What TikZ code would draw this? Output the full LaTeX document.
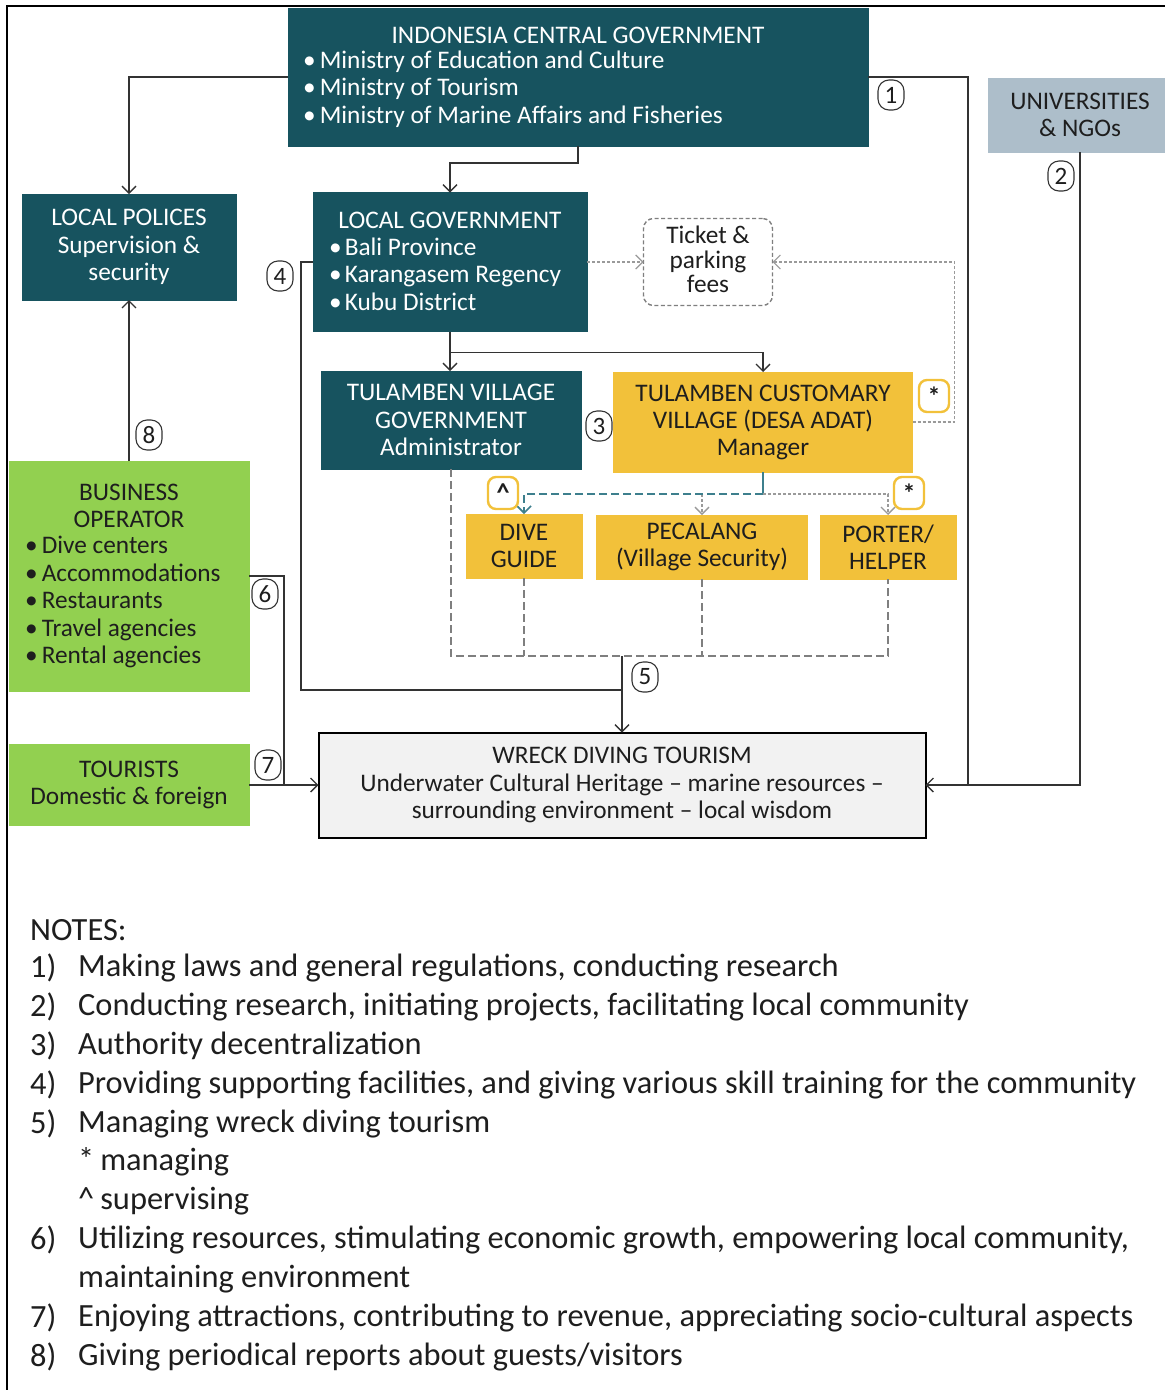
\documentclass[tikz,border=0pt]{standalone}
\usepackage{fontspec}
\setmainfont{Carlito}
\usetikzlibrary{arrows.meta}
\definecolor{tealc}{HTML}{17535F}
\definecolor{yelc}{HTML}{F2C13A}
\definecolor{grnc}{HTML}{92D050}
\definecolor{univc}{HTML}{ADBECA}
\definecolor{wreckc}{HTML}{F2F2F2}
\definecolor{txtc}{HTML}{1E1E1E}
\definecolor{linec}{HTML}{333333}
\definecolor{dotc}{HTML}{9A9A9A}
\definecolor{dashc}{HTML}{7F7F7F}
\definecolor{tdashc}{HTML}{3D7F8D}
\begin{document}
\begin{tikzpicture}[x=1pt,y=-1pt,
  base/.style={inner sep=0pt, outer sep=0pt, align=center, font=\fontsize{25.3}{27.5}\selectfont},
  tealbox/.style={base, fill=tealc, draw=tealc, text=white},
  yelbox/.style={base, fill=yelc, draw=yelc, text=txtc},
  grnbox/.style={base, fill=grnc, draw=grnc, text=txtc},
  wtxt/.style={inner sep=0pt, align=left, text=white, font=\fontsize{25.3}{27.5}\selectfont},
  dtxt/.style={inner sep=0pt, align=left, text=txtc, font=\fontsize{25.3}{27.5}\selectfont},
  conn/.style={draw=linec, line width=1.3pt},
  arr/.style={conn, -{Straight Barb[length=7pt,width=14pt]}},
  dotarr/.style={draw=dotc, line width=1.2pt, dash pattern=on 3pt off 2pt, -{Straight Barb[length=7pt,width=14pt]}},
  gdash/.style={draw=dashc, line width=1.6pt, dash pattern=on 8pt off 4pt},
  tdash/.style={draw=tdashc, line width=1.6pt, dash pattern=on 8pt off 4pt, -{Straight Barb[length=7pt,width=14pt]}},
  gdot/.style={draw=dotc, line width=1.3pt, dash pattern=on 3pt off 2pt},
  circ/.style={draw=linec, line width=1.1pt, rounded corners=11pt, minimum width=26pt, minimum height=30pt, inner sep=0pt, font=\fontsize{25}{25}\selectfont, text=txtc},
  starbox/.style={draw=yelc, line width=2.4pt, rounded corners=8pt, minimum width=30pt, minimum height=32pt, fill=white, inner sep=0pt, font=\fontsize{26}{26}\selectfont\bfseries, text=txtc},
  note/.style={anchor=west, inner sep=0pt, font=\fontsize{32.4}{39}\selectfont, text=txtc},
]
\useasboundingbox (0,0) rectangle (1165,1390);
\fill[white] (0,0) rectangle (1165,1390);
% frame
\draw[line width=1.8pt, black] (7,1392) -- (7,6) -- (1167,6);

% boxes
\node[tealbox, minimum width=580, minimum height=138] (cg) at (578,77) {};
\node[wtxt, anchor=center] (cgt) at (578,35) {INDONESIA CENTRAL GOVERNMENT};
\node[wtxt, anchor=west] (cgl) at (303,89) {\textbullet\hspace{4pt}Ministry of Education and Culture\\\textbullet\hspace{4pt}Ministry of Tourism\\\textbullet\hspace{4pt}Ministry of Marine Affairs and Fisheries};

\node[base, fill=univc, draw=univc, text=txtc, minimum width=184, minimum height=74] (univ) at (1080,115) {UNIVERSITIES\\\& NGOs};

\node[tealbox, minimum width=214, minimum height=106] (lp) at (129,247) {LOCAL POLICES\\Supervision \&\\security};

\node[tealbox, minimum width=274, minimum height=139] (lg) at (450,262) {};
\node[wtxt, anchor=center] (lgt) at (450,220) {LOCAL GOVERNMENT};
\node[wtxt, anchor=west] (lgl) at (329,274) {\textbullet\hspace{3pt}Bali Province\\\textbullet\hspace{3pt}Karangasem Regency\\\textbullet\hspace{3pt}Kubu District};

\node[base, draw=dashc, dash pattern=on 4pt off 2.5pt, line width=1.4pt, rounded corners=10pt, minimum width=129, minimum height=87] (tk) at (708,262) {};
\node[base, text=txtc, font=\fontsize{25.3}{24.5}\selectfont] (tkt) at (708,259.5) {Ticket \&\\parking\\fees};

\node[tealbox, minimum width=260, minimum height=98] (vg) at (451,420) {TULAMBEN VILLAGE\\GOVERNMENT\\Administrator};
\node[yelbox, minimum width=299, minimum height=100, font=\fontsize{25.3}{27}\selectfont] (cv) at (763,422) {TULAMBEN CUSTOMARY\\VILLAGE (DESA ADAT)\\Manager};

\node[yelbox, minimum width=116, minimum height=64] (dg) at (524,546) {DIVE\\GUIDE};
\node[yelbox, minimum width=211, minimum height=64] (pc) at (702,547) {PECALANG\\(Village Security)};
\node[yelbox, minimum width=136, minimum height=64] (ph) at (888,547) {PORTER/\\HELPER};

\node[grnbox, minimum width=240, minimum height=230] (bo) at (129,576) {};
\node[dtxt, align=center, anchor=center] (bot) at (129,506) {BUSINESS\\OPERATOR};
\node[dtxt, anchor=west] (bol) at (25,602) {\textbullet\hspace{4pt}Dive centers\\\textbullet\hspace{4pt}Accommodations\\\textbullet\hspace{4pt}Restaurants\\\textbullet\hspace{4pt}Travel agencies\\\textbullet\hspace{4pt}Rental agencies};

\node[grnbox, minimum width=240, minimum height=81] (to) at (129,785) {TOURISTS\\Domestic \& foreign};

\node[base, fill=wreckc, draw=black, line width=2pt, text=txtc, minimum width=607, minimum height=105] (wd) at (622,785) {WRECK DIVING TOURISM\\Underwater Cultural Heritage -- marine resources --\\surrounding environment -- local wisdom};

% connectors
\draw[arr] (cg.west) -| (lp.north);
\draw[arr] (cg.south) -- ++(0,17) -| (lg.north);
\coordinate (c1) at (968,785);
\draw[conn] (cg.east) -| (c1);
\draw[arr] (univ.south) |- (wd.east);
\draw[dotarr] (lg.east) -- (tk.west);
\draw[dotarr] (cv.east) -- ++(42,0) |- (tk.east);
\draw[arr] (lg.south) -- (lg.south |- vg.north);
\draw[arr] (lg.south) ++(0,21) -| (cv.north);
\coordinate (c4) at (301,690);
\draw[conn] (lg.west) -| (c4) -- (c4 -| wd.north);
\coordinate (dl) at (451,656);
\draw[gdash] (vg.south) -- (vg.south |- dl) -- (ph.south |- dl) -- (ph.south);
\draw[gdash] (dg.south) -- (dg.south |- dl);
\draw[gdash] (pc.south) -- (pc.south |- dl);
\draw[arr] (wd.north |- dl) -- (wd.north);
\coordinate (cb) at (763,494);
\draw[conn, draw=tdashc, line width=1.6pt] (cv.south) -- (cb);
\draw[gdot, -{Straight Barb[length=7pt,width=14pt]}] (cb) -| (ph.north);
\draw[gdot, -{Straight Barb[length=7pt,width=14pt]}] (pc.north |- cb) -- (pc.north);
\draw[tdash] (cb) -| (dg.north);
\coordinate (c6) at (284,785);
\draw[conn] (bo.east) -| (c6);
\draw[arr] (to.east) -- (wd.west);
\draw[arr] (bo.north) -- (lp.south);

% circled labels
\node[circ] (n1) at (891,95) {1};
\node[circ] (n2) at (1061,176) {2};
\node[circ] (n3) at (599,426) {3};
\node[circ] (n4) at (280,276) {4};
\node[circ] (n5) at (645,677) {5};
\node[circ] (n6) at (265,594) {6};
\node[circ] (n7) at (268,765) {7};
\node[circ] (n8) at (149,435) {8};

% markers
\node[starbox] (m1) at (503,493) {\textasciicircum};
\node[starbox] (m2) at (909,493) {\raisebox{-4pt}{*}};
\node[starbox] (m3) at (934,396) {\raisebox{-4pt}{*}};

% notes
\node[note] (nt0) at (30,930) {NOTES:};
\foreach \n/\yy/\t in {1/968/{Making laws and general regulations, conducting research},
  2/1007/{Conducting research, initiating projects, facilitating local community},
  3/1046/{Authority decentralization},
  4/1085/{Providing supporting facilities, and giving various skill training for the community},
  5/1124/{Managing wreck diving tourism},
  6/1240/{Utilizing resources, stimulating economic growth, empowering local community,},
  7/1318/{Enjoying attractions, contributing to revenue, appreciating socio-cultural aspects},
  8/1357/{Giving periodical reports about guests/visitors}}{
  \node[note] (nn\n) at (30,\yy) {\n)};
  \node[note] (nx\n) at (78,\yy) {\t};
}
\node[note] (nsa) at (78,1162) {*\hspace{6pt}managing};
\node[note] (nsb) at (78,1201) {\textasciicircum\hspace{6pt}supervising};
\node[note] (n6b) at (78,1279) {maintaining environment};
\end{tikzpicture}
\end{document}
